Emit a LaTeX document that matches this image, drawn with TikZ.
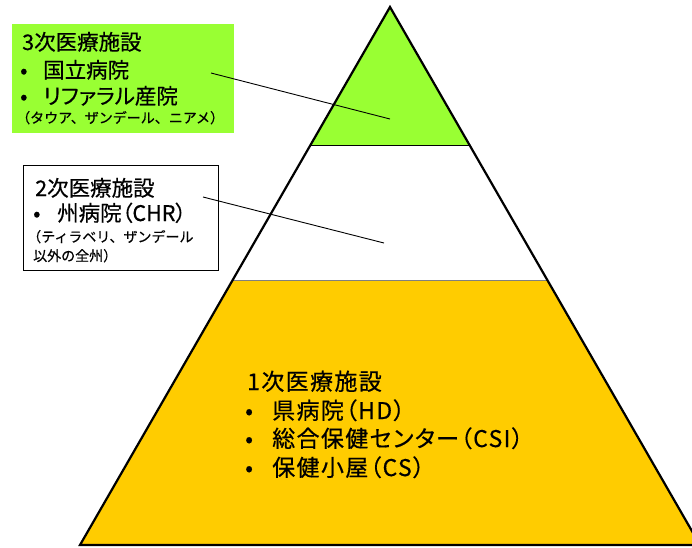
\documentclass[tikz,border=0pt]{standalone}
\usepackage{fontspec}
\setmainfont{Noto Sans CJK JP}[RawFeature=+palt, FakeBold=0.5]
\newfontfamily\jpfull{Noto Sans CJK JP}[FakeBold=0.4]
\newfontfamily\jpwide{Noto Sans CJK JP}[RawFeature=+palt, LetterSpace=6, FakeBold=0.5]
\definecolor{topgreen}{RGB}{153,255,51}
\definecolor{basegold}{RGB}{255,204,0}
\tikzset{
  big/.style={font=\fontsize{21.5}{24}\selectfont, anchor=base west, inner sep=0pt},
  bigwide/.style={font=\jpwide\fontsize{23}{26}\selectfont, anchor=base west, inner sep=0pt},
  small/.style={font=\jpfull\fontsize{14}{16}\selectfont, anchor=base west, inner sep=0pt},
  leader/.style={draw=black, line width=0.9pt},
  labelbox/.style={line width=1pt}
}
\begin{document}
\begin{tikzpicture}[x=1pt,y=-1pt]
\useasboundingbox (0,0) rectangle (692,547);
\clip (0,0) rectangle (692,547);
% pyramid geometry
\coordinate (A) at (390,7);
\coordinate (BL) at (80,545);
\coordinate (BR) at (700,545);
\coordinate (GL) at (310.3,145);
\coordinate (GR) at (469.7,145);
\coordinate (OL) at (232.7,280);
\coordinate (OR) at (547.3,280);
\fill[topgreen] (A) -- (GR) -- (GL) -- cycle;
\fill[white] (GL) -- (GR) -- (OR) -- (OL) -- cycle;
\fill[basegold] (OL) -- (OR) -- (BR) -- (BL) -- cycle;
\draw[line width=0.8pt] (GL) -- (GR);
\draw[line width=0.8pt, draw=gray] (OL) -- (OR);
\draw[line width=2.2pt, line join=miter] (BL) -- (A) -- (BR) -- cycle;
% tertiary box
\node[labelbox, fill=topgreen, minimum width=222pt, minimum height=109pt, anchor=north west, inner sep=0pt] (tbox) at (11,23) {};
\node[big] (t1) at (22,50) {3次医療施設};
\node[big] (t2b) at (20,78) {•};
\node[big] (t2) at (43,78) {国立病院};
\node[big] (t3b) at (20,104) {•};
\node[big] (t3) at (43,104) {リファラル産院};
\node[small] (t4) at (16,123) {（タウア、ザンデール、ニアメ）};
% secondary box
\node[labelbox, draw=black, fill=white, minimum width=195pt, minimum height=105pt, anchor=north west, inner sep=0pt] (sbox) at (23,165) {};
\node[big] (s1) at (35,196) {2次医療施設};
\node[big] (s2b) at (33,221) {•};
\node[big] (s2) at (57,221) {州病院（CHR）};
\node[small] (s3) at (27,242) {（ティラベリ、ザンデール};
\node[small] (s4) at (33,261) {以外の全州）};
% primary text
\node[bigwide] (p1) at (247,390) {1次医療施設};
\node[bigwide] (p2b) at (245,419) {•};
\node[bigwide] (p2) at (272,419) {県病院（HD）};
\node[bigwide] (p3b) at (245,447) {•};
\node[bigwide] (p3) at (272,447) {総合保健センター（CSI）};
\node[bigwide] (p4b) at (245,476) {•};
\node[bigwide] (p4) at (272,476) {保健小屋（CS）};
% leaders
\coordinate (tl1) at (211,73);
\coordinate (tl2) at (390,119);
\coordinate (sl1) at (203,197);
\coordinate (sl2) at (384,243);
\draw[leader] (tl1) -- (tl2);
\draw[leader] (sl1) -- (sl2);
\end{tikzpicture}
\end{document}
